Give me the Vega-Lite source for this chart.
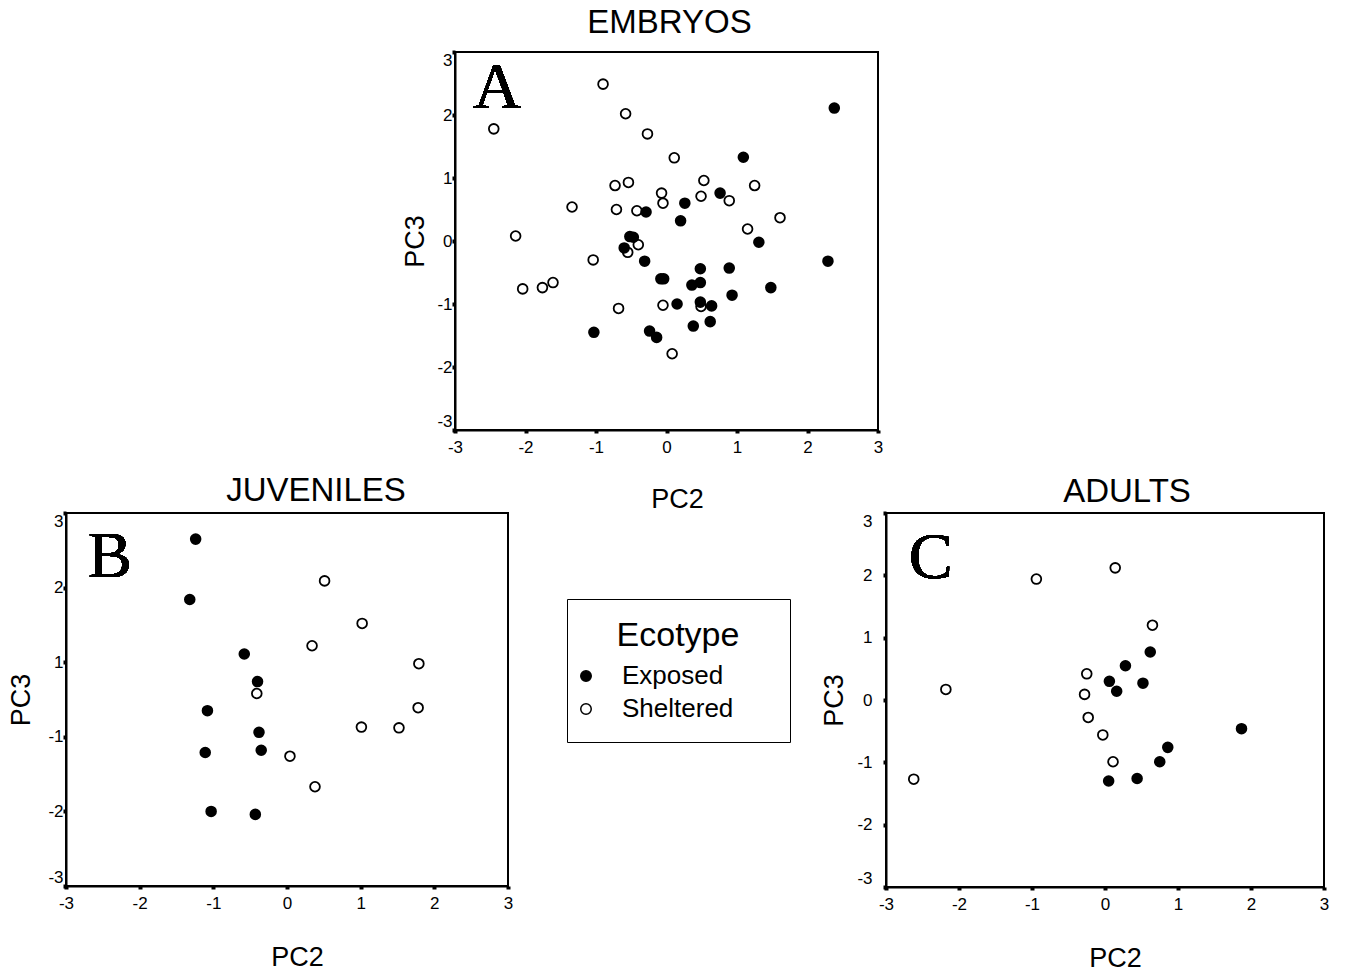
{
  "$schema": "https://vega.github.io/schema/vega-lite/v6.json",
  "background": "white",
  "padding": {"left": 6, "top": 6, "right": 5, "bottom": 5},
  "bounds": "flush",
  "spacing": 461,
  "resolve": {"scale": {"fill": "independent"}, "legend": {"fill": "independent"}},
  "config": {
    "font": "Liberation Sans",
    "view": {"stroke": "black", "strokeWidth": 2},
    "title": {"font": "Liberation Sans", "fontSize": 33, "fontWeight": "normal", "color": "black", "anchor": "middle", "baseline": "alphabetic"},
    "axis": {
      "grid": false,
      "domainColor": "black", "domainWidth": 2,
      "tickColor": "black", "tickSize": 3, "tickWidth": 4,
      "labelFont": "Liberation Sans", "labelFontSize": 17, "labelColor": "black",
      "titleFont": "Liberation Sans", "titleFontSize": 27, "titleFontWeight": "normal", "titleColor": "black"
    },
    "axisX": {"labelPadding": 6, "titlePadding": 33, "labelFlush": false},
    "axisY": {"labelFlush": true}
  },
  "datasets": {
    "embryos": [
      {"PC2": -0.90, "PC3": 2.49, "Ecotype": "Sheltered"},
      {"PC2": -2.45, "PC3": 1.78, "Ecotype": "Sheltered"},
      {"PC2": -0.58, "PC3": 2.02, "Ecotype": "Sheltered"},
      {"PC2": -0.27, "PC3": 1.70, "Ecotype": "Sheltered"},
      {"PC2": 0.11, "PC3": 1.32, "Ecotype": "Sheltered"},
      {"PC2": -0.73, "PC3": 0.88, "Ecotype": "Sheltered"},
      {"PC2": -0.54, "PC3": 0.93, "Ecotype": "Sheltered"},
      {"PC2": 0.53, "PC3": 0.96, "Ecotype": "Sheltered"},
      {"PC2": 1.25, "PC3": 0.88, "Ecotype": "Sheltered"},
      {"PC2": -0.07, "PC3": 0.76, "Ecotype": "Sheltered"},
      {"PC2": 0.49, "PC3": 0.71, "Ecotype": "Sheltered"},
      {"PC2": -0.05, "PC3": 0.60, "Ecotype": "Sheltered"},
      {"PC2": 0.89, "PC3": 0.64, "Ecotype": "Sheltered"},
      {"PC2": -1.34, "PC3": 0.54, "Ecotype": "Sheltered"},
      {"PC2": -0.71, "PC3": 0.50, "Ecotype": "Sheltered"},
      {"PC2": -0.42, "PC3": 0.48, "Ecotype": "Sheltered"},
      {"PC2": 1.61, "PC3": 0.37, "Ecotype": "Sheltered"},
      {"PC2": 1.15, "PC3": 0.19, "Ecotype": "Sheltered"},
      {"PC2": -2.14, "PC3": 0.08, "Ecotype": "Sheltered"},
      {"PC2": -0.40, "PC3": -0.06, "Ecotype": "Sheltered"},
      {"PC2": -0.55, "PC3": -0.18, "Ecotype": "Sheltered"},
      {"PC2": -1.04, "PC3": -0.30, "Ecotype": "Sheltered"},
      {"PC2": -2.04, "PC3": -0.76, "Ecotype": "Sheltered"},
      {"PC2": -1.76, "PC3": -0.74, "Ecotype": "Sheltered"},
      {"PC2": -1.61, "PC3": -0.66, "Ecotype": "Sheltered"},
      {"PC2": -0.68, "PC3": -1.07, "Ecotype": "Sheltered"},
      {"PC2": -0.05, "PC3": -1.02, "Ecotype": "Sheltered"},
      {"PC2": 0.49, "PC3": -1.04, "Ecotype": "Sheltered"},
      {"PC2": 0.08, "PC3": -1.79, "Ecotype": "Sheltered"},
      {"PC2": 2.38, "PC3": 2.11, "Ecotype": "Exposed"},
      {"PC2": 1.09, "PC3": 1.33, "Ecotype": "Exposed"},
      {"PC2": 0.76, "PC3": 0.76, "Ecotype": "Exposed"},
      {"PC2": 0.26, "PC3": 0.60, "Ecotype": "Exposed"},
      {"PC2": -0.29, "PC3": 0.46, "Ecotype": "Exposed"},
      {"PC2": 0.20, "PC3": 0.32, "Ecotype": "Exposed"},
      {"PC2": -0.47, "PC3": 0.06, "Ecotype": "Exposed"},
      {"PC2": -0.52, "PC3": 0.07, "Ecotype": "Exposed"},
      {"PC2": 1.31, "PC3": -0.02, "Ecotype": "Exposed"},
      {"PC2": -0.60, "PC3": -0.11, "Ecotype": "Exposed"},
      {"PC2": -0.31, "PC3": -0.32, "Ecotype": "Exposed"},
      {"PC2": 2.29, "PC3": -0.32, "Ecotype": "Exposed"},
      {"PC2": -0.08, "PC3": -0.60, "Ecotype": "Exposed"},
      {"PC2": -0.04, "PC3": -0.60, "Ecotype": "Exposed"},
      {"PC2": 0.48, "PC3": -0.44, "Ecotype": "Exposed"},
      {"PC2": 0.89, "PC3": -0.43, "Ecotype": "Exposed"},
      {"PC2": 0.36, "PC3": -0.70, "Ecotype": "Exposed"},
      {"PC2": 0.48, "PC3": -0.66, "Ecotype": "Exposed"},
      {"PC2": 1.48, "PC3": -0.74, "Ecotype": "Exposed"},
      {"PC2": 0.93, "PC3": -0.86, "Ecotype": "Exposed"},
      {"PC2": 0.15, "PC3": -1.00, "Ecotype": "Exposed"},
      {"PC2": 0.48, "PC3": -0.97, "Ecotype": "Exposed"},
      {"PC2": 0.64, "PC3": -1.03, "Ecotype": "Exposed"},
      {"PC2": -1.03, "PC3": -1.45, "Ecotype": "Exposed"},
      {"PC2": -0.24, "PC3": -1.43, "Ecotype": "Exposed"},
      {"PC2": -0.14, "PC3": -1.53, "Ecotype": "Exposed"},
      {"PC2": 0.38, "PC3": -1.35, "Ecotype": "Exposed"},
      {"PC2": 0.62, "PC3": -1.28, "Ecotype": "Exposed"}
    ],
    "juveniles": [
      {"PC2": 0.51, "PC3": 2.09, "Ecotype": "Sheltered"},
      {"PC2": 1.02, "PC3": 1.52, "Ecotype": "Sheltered"},
      {"PC2": 0.34, "PC3": 1.22, "Ecotype": "Sheltered"},
      {"PC2": 1.79, "PC3": 0.98, "Ecotype": "Sheltered"},
      {"PC2": -0.41, "PC3": 0.58, "Ecotype": "Sheltered"},
      {"PC2": 1.78, "PC3": 0.39, "Ecotype": "Sheltered"},
      {"PC2": 1.01, "PC3": 0.13, "Ecotype": "Sheltered"},
      {"PC2": 1.52, "PC3": 0.12, "Ecotype": "Sheltered"},
      {"PC2": 0.04, "PC3": -0.26, "Ecotype": "Sheltered"},
      {"PC2": 0.38, "PC3": -0.67, "Ecotype": "Sheltered"},
      {"PC2": -1.24, "PC3": 2.65, "Ecotype": "Exposed"},
      {"PC2": -1.32, "PC3": 1.84, "Ecotype": "Exposed"},
      {"PC2": -0.58, "PC3": 1.11, "Ecotype": "Exposed"},
      {"PC2": -0.40, "PC3": 0.74, "Ecotype": "Exposed"},
      {"PC2": -1.08, "PC3": 0.35, "Ecotype": "Exposed"},
      {"PC2": -0.38, "PC3": 0.06, "Ecotype": "Exposed"},
      {"PC2": -1.11, "PC3": -0.21, "Ecotype": "Exposed"},
      {"PC2": -0.35, "PC3": -0.18, "Ecotype": "Exposed"},
      {"PC2": -1.03, "PC3": -1.00, "Ecotype": "Exposed"},
      {"PC2": -0.43, "PC3": -1.04, "Ecotype": "Exposed"}
    ],
    "adults": [
      {"PC2": -0.94, "PC3": 1.94, "Ecotype": "Sheltered"},
      {"PC2": 0.14, "PC3": 2.12, "Ecotype": "Sheltered"},
      {"PC2": 0.65, "PC3": 1.20, "Ecotype": "Sheltered"},
      {"PC2": -0.25, "PC3": 0.42, "Ecotype": "Sheltered"},
      {"PC2": -2.18, "PC3": 0.17, "Ecotype": "Sheltered"},
      {"PC2": -0.28, "PC3": 0.09, "Ecotype": "Sheltered"},
      {"PC2": -0.23, "PC3": -0.28, "Ecotype": "Sheltered"},
      {"PC2": -0.03, "PC3": -0.56, "Ecotype": "Sheltered"},
      {"PC2": 0.11, "PC3": -0.99, "Ecotype": "Sheltered"},
      {"PC2": -2.62, "PC3": -1.27, "Ecotype": "Sheltered"},
      {"PC2": 0.62, "PC3": 0.77, "Ecotype": "Exposed"},
      {"PC2": 0.28, "PC3": 0.55, "Ecotype": "Exposed"},
      {"PC2": 0.06, "PC3": 0.30, "Ecotype": "Exposed"},
      {"PC2": 0.16, "PC3": 0.14, "Ecotype": "Exposed"},
      {"PC2": 0.52, "PC3": 0.27, "Ecotype": "Exposed"},
      {"PC2": 1.87, "PC3": -0.46, "Ecotype": "Exposed"},
      {"PC2": 0.86, "PC3": -0.76, "Ecotype": "Exposed"},
      {"PC2": 0.75, "PC3": -0.99, "Ecotype": "Exposed"},
      {"PC2": 0.44, "PC3": -1.26, "Ecotype": "Exposed"},
      {"PC2": 0.05, "PC3": -1.30, "Ecotype": "Exposed"}
    ]
  },
  "vconcat": [
    {
      "bounds": "flush",
      "spacing": 0,
      "resolve": {"scale": {"fill": "independent"}, "legend": {"fill": "independent"}},
      "hconcat": [
        {
          "width": 389, "height": 378,
          "view": {"stroke": null},
          "data": {"values": []},
          "mark": "point",
          "encoding": {}
        },
        {
          "width": 423, "height": 378,
          "title": {"text": "EMBRYOS", "offset": 10, "dx": 3},
          "data": {"name": "embryos"},
          "layer": [
            {
              "mark": {"type": "point", "shape": "circle", "filled": true, "size": 95, "stroke": "black", "strokeWidth": 1.8, "opacity": 1},
              "encoding": {
                "x": {"field": "PC2", "type": "quantitative", "scale": {"domain": [-3, 3], "nice": false},
                      "axis": {"title": "PC2", "values": [-3, -2, -1, 0, 1, 2, 3], "labelExpr": "'' + datum.value", "titleX": 222, "titlePadding": 31}},
                "y": {"field": "PC3", "type": "quantitative", "scale": {"domain": [-3, 3], "nice": false},
                      "axis": {"title": "PC3", "values": [-3, -2, -1, 0, 1, 2, 3], "labelExpr": "'' + datum.value", "labelPadding": 0, "titlePadding": 7}},
                "fill": {"field": "Ecotype", "type": "nominal", "scale": {"domain": ["Exposed", "Sheltered"], "range": ["black", "white"]}, "legend": null}
              }
            },
            {
              "mark": {"type": "text", "text": "A", "font": "Liberation Serif", "fontSize": 66, "align": "left", "baseline": "alphabetic", "color": "black"},
              "encoding": {"x": {"datum": -2.74}, "y": {"datum": 2.11}}
            }
          ]
        }
      ]
    },
    {
      "bounds": "flush",
      "spacing": 378,
      "resolve": {"scale": {"fill": "independent"}, "legend": {"fill": "independent"}},
      "hconcat": [
        {
          "width": 442, "height": 373,
          "title": {"text": "JUVENILES", "offset": 3, "dx": 29},
          "data": {"name": "juveniles"},
          "layer": [
            {
              "mark": {"type": "point", "shape": "circle", "filled": true, "size": 95, "stroke": "black", "strokeWidth": 1.8, "opacity": 1},
              "encoding": {
                "x": {"field": "PC2", "type": "quantitative", "scale": {"domain": [-3, 3], "nice": false},
                      "axis": {"title": "PC2", "values": [-3, -2, -1, 0, 1, 2, 3], "labelExpr": "'' + datum.value", "titleX": 231}},
                "y": {"field": "PC3", "type": "quantitative", "scale": {"domain": [-2, 3], "nice": false},
                      "axis": {"title": "PC3", "values": [-2, -1, 0, 1, 2, 3], "labelExpr": "'' + (datum.value > 0 ? datum.value : datum.value - 1)", "labelPadding": 0, "titlePadding": 12}},
                "fill": {"field": "Ecotype", "type": "nominal", "scale": {"domain": ["Exposed", "Sheltered"], "range": ["black", "white"]},
                         "legend": {
                           "title": "Ecotype", "orient": "none", "legendX": 501, "legendY": 86,
                           "strokeColor": "black", "padding": 20, "fillColor": "white",
                           "titleFont": "Liberation Sans", "titleFontSize": 34, "titleFontWeight": "normal", "titleColor": "black", "titleAnchor": "middle", "titlePadding": 10,
                           "labelFont": "Liberation Sans", "labelFontSize": 26, "labelColor": "black", "labelOffset": 23,
                           "labelExpr": "datum.label + '\u00a0\u00a0\u00a0\u00a0\u00a0\u200b'",
                           "symbolType": "circle", "symbolSize": 110, "symbolOffset": -14, "symbolStrokeColor": "black", "symbolStrokeWidth": 1.5, "rowPadding": 7
                         }}
              }
            },
            {
              "mark": {"type": "text", "text": "B", "font": "Liberation Serif", "fontSize": 66, "align": "left", "baseline": "alphabetic", "color": "black"},
              "encoding": {"x": {"datum": -2.70}, "y": {"datum": 2.14}}
            }
          ]
        },
        {
          "width": 438, "height": 374,
          "title": {"text": "ADULTS", "offset": 2, "dx": 22},
          "data": {"name": "adults"},
          "layer": [
            {
              "mark": {"type": "point", "shape": "circle", "filled": true, "size": 95, "stroke": "black", "strokeWidth": 1.8, "opacity": 1},
              "encoding": {
                "x": {"field": "PC2", "type": "quantitative", "scale": {"domain": [-3, 3], "nice": false},
                      "axis": {"title": "PC2", "values": [-3, -2, -1, 0, 1, 2, 3], "labelExpr": "'' + datum.value", "titleX": 229}},
                "y": {"field": "PC3", "type": "quantitative", "scale": {"domain": [-3, 3], "nice": false},
                      "axis": {"title": "PC3", "values": [-3, -2, -1, 0, 1, 2, 3], "labelExpr": "'' + datum.value", "labelPadding": 11, "titlePadding": 8}},
                "fill": {"field": "Ecotype", "type": "nominal", "scale": {"domain": ["Exposed", "Sheltered"], "range": ["black", "white"]}, "legend": null}
              }
            },
            {
              "mark": {"type": "text", "text": "C", "font": "Liberation Serif", "fontSize": 66, "align": "left", "baseline": "alphabetic", "color": "black"},
              "encoding": {"x": {"datum": -2.69}, "y": {"datum": 1.96}}
            }
          ]
        }
      ]
    }
  ]
}
